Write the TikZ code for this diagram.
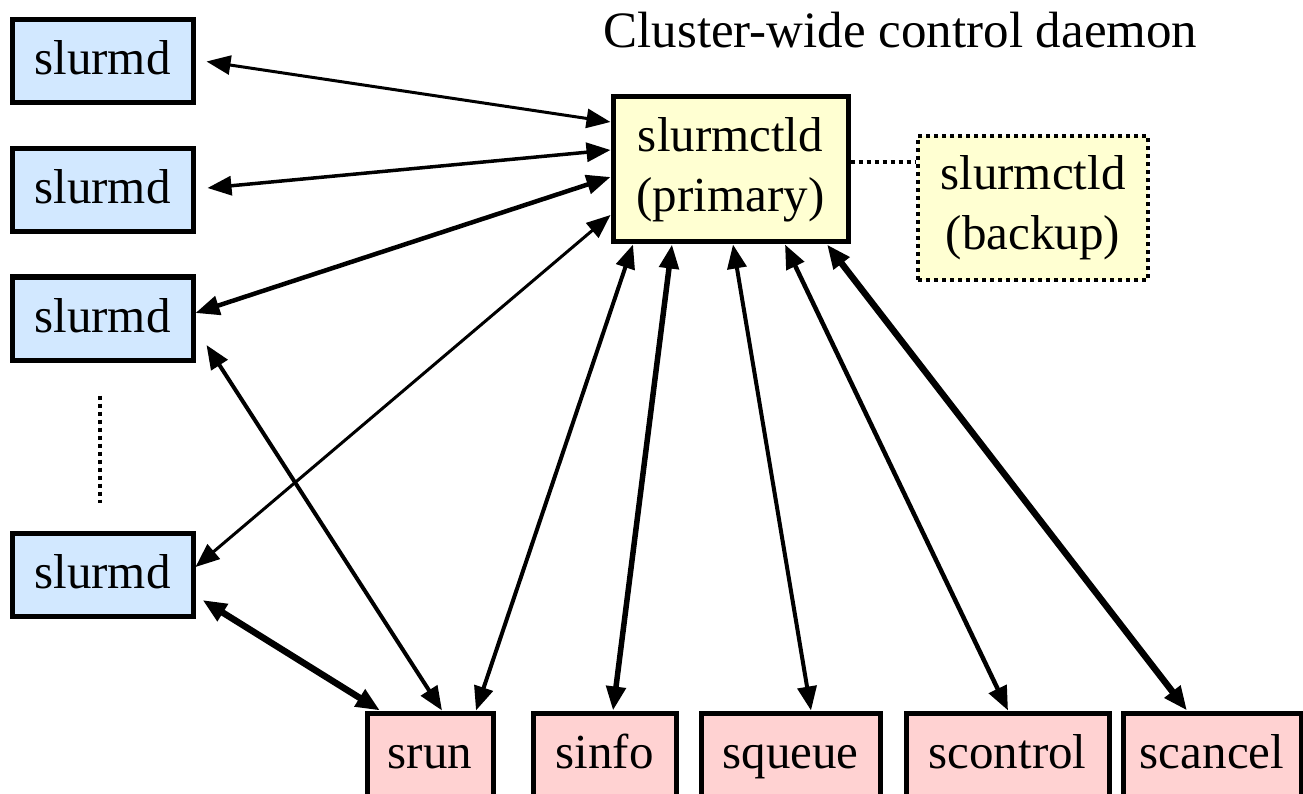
\documentclass[tikz,border=0pt]{standalone}
\usepackage{fontspec}
\setmainfont{Liberation Serif}
\newfontfamily\tnr{Liberation Serif}
\usetikzlibrary{arrows.meta,calc}
\definecolor{nodeblue}{HTML}{D2E8FF}
\definecolor{ctlyellow}{HTML}{FFFFD2}
\definecolor{cmdpink}{HTML}{FFD2D2}
\tikzset{
  boxbase/.style={draw=black, line width=5pt, inner sep=0pt, font=\tnr\fontsize{49pt}{60pt}\selectfont},
  dnode/.style={boxbase, fill=nodeblue, minimum width=181pt, minimum height=83pt, text height=34pt, text depth=7pt},
  cnode/.style={boxbase, fill=cmdpink, minimum height=83pt, text height=34pt, text depth=7pt},
  ctl/.style={boxbase, fill=ctlyellow, align=center},
  bkp/.style={ctl, line width=4pt, dash pattern=on 4pt off 4pt},
  link/.style={{Triangle[length=24pt,width=19pt]}-{Triangle[length=24pt,width=19pt]}, line width=#1},
  link/.default=4pt,
  dotline/.style={line width=4pt, dash pattern=on 4pt off 4pt},
}
\begin{document}
\begin{tikzpicture}[x=1pt,y=-1pt]
\useasboundingbox (0,0) rectangle (1303,794);
% title
\node[anchor=base, inner sep=0pt, font=\tnr\fontsize{51pt}{60pt}\selectfont] (title) at (900.5,48) {Cluster-wide control daemon};
% slurmd nodes
\node[dnode] (s1) at (102.5,61.5) {slurmd};
\node[dnode] (s2) at (102.5,190) {slurmd};
\node[dnode] (s3) at (102.5,318.5) {slurmd};
\node[dnode] (s4) at (102.5,575) {slurmd};
% controllers
\node[ctl, minimum width=235pt, minimum height=145pt] (p) at (730.5,169.5) {slurmctld\\(primary)};
\node[bkp, minimum width=230pt, minimum height=144pt] (b) at (1033,208) {slurmctld\\(backup)};
% commands
\node[cnode, minimum width=126pt] (srun) at (430,754.5) {srun};
\node[cnode, minimum width=143pt] (sinfo) at (604.5,754.5) {sinfo};
\node[cnode, minimum width=179pt] (squeue) at (790.5,754.5) {squeue};
\node[cnode, minimum width=203pt] (scontrol) at (1007.5,754.5) {scontrol};
\node[cnode, minimum width=178pt] (scancel) at (1212,754.5) {scancel};
% dotted marks
\draw[dotline] ($(s3.south)+(-2.5,33)$) -- ($(s4.north)+(-2.5,-28)$);
\draw[dotline] ([yshift=7.5pt]p.east) -- ([yshift=7.5pt]p.east -| b.west);
% slurmd <-> slurmctld
\draw[link=3pt] ([xshift=11pt]s1.east) -- ([yshift=47.5pt]p.west);
\draw[link=3.5pt] ([xshift=12pt,yshift=2pt]s2.east) -- ([yshift=19.5pt]p.west);
\draw[link=4.5pt] ([yshift=5.5pt]s3.east) -- ([yshift=-7.5pt]p.west);
\draw[link=3pt] ([yshift=8pt]s4.east) -- ([yshift=-45.5pt]p.west);
% slurmd <-> srun
\draw[link=4pt] ([xshift=11pt,yshift=-26.5pt]s3.east) -- ([xshift=12pt]srun.north);
\draw[link=6.5pt] ([xshift=7pt,yshift=-25pt]s4.east) -- ([xshift=-50pt]srun.north);
% commands <-> slurmctld
\draw[link=4pt] ([xshift=46pt]srun.north) -- ([xshift=-97.5pt]p.south);
\draw[link=5.5pt] ([xshift=8.5pt]sinfo.north) -- ([xshift=-58.5pt]p.south);
\draw[link=4pt] ([xshift=20.5pt]squeue.north) -- ([xshift=2.5pt]p.south);
\draw[link=4.5pt] ([xshift=0.5pt]scontrol.north) -- ([xshift=54.5pt]p.south);
\draw[link=6.5pt] ([xshift=-25pt]scancel.north) -- ([xshift=96.5pt]p.south);
\end{tikzpicture}
\end{document}
